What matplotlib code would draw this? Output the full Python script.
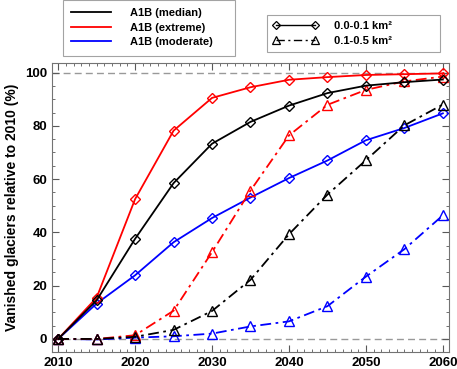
import matplotlib.pyplot as plt
from matplotlib.lines import Line2D
from matplotlib.ticker import MultipleLocator

plt.rcParams['font.family'] = ['Liberation Sans', 'DejaVu Sans']
plt.rcParams['font.weight'] = 'bold'

years = [2010, 2015, 2020, 2025, 2030, 2035, 2040, 2045, 2050, 2055, 2060]

# 0.0-0.1 km2 (diamonds, solid)
median_small = [0, 14.5, 37.6, 58.5, 73.3, 81.5, 87.6, 92.3, 95.1, 96.4, 97.4]
extreme_small = [0, 15.5, 52.5, 78.2, 90.5, 94.5, 97.3, 98.3, 99.1, 99.4, 99.7]
moderate_small = [0, 13.3, 23.9, 36.3, 45.4, 53.1, 60.4, 67.0, 74.6, 79.2, 84.7]

# 0.1-0.5 km2 (triangles, dash-dot)
median_large = [0, 0, 0.8, 3.4, 10.5, 22.2, 39.3, 54.2, 67.1, 80.2, 88.0]
extreme_large = [0, 0, 1.4, 10.6, 32.6, 55.7, 76.4, 87.9, 93.5, 96.7, 98.5]
moderate_large = [0, -0.2, 0.5, 1.0, 2.0, 4.7, 6.6, 12.3, 23.4, 33.7, 46.4]

scenarios = ['A1B (median)', 'A1B (extreme)', 'A1B (moderate)']
size_classes = ['0.0-0.1 km²', '0.1-0.5 km²']
colors = ['black', 'red', 'blue']
small_sets = [median_small, extreme_small, moderate_small]
large_sets = [median_large, extreme_large, moderate_large]

fig = plt.figure(figsize=(4.57, 3.69), dpi=100)
ax = fig.add_axes([52/457, 17/369, 397/457, 289/369])

ax.axhline(0, color='0.6', ls=(0, (5, 3)), lw=1.0, zorder=1)
ax.axhline(100, color='0.6', ls=(0, (5, 3)), lw=1.0, zorder=1)

dashdot = (0, (6, 2.5, 1.5, 2.5))
for c, s, l in zip(colors[::-1], small_sets[::-1], large_sets[::-1]):
    ax.plot(years, l, color=c, ls=dashdot, lw=1.3, marker='^', ms=7,
            mfc='none', mec=c, mew=1.0)
    ax.plot(years, s, color=c, ls='-', lw=1.3, marker='D', ms=5,
            mfc='none', mec=c, mew=1.0)

ax.set_xlim(2009.2, 2060.8)
ax.set_ylim(-4.9, 103.6)
ax.set_xticks([2010, 2020, 2030, 2040, 2050, 2060])
ax.set_yticks([0, 20, 40, 60, 80, 100])
ax.xaxis.set_minor_locator(MultipleLocator(1))
ax.yaxis.set_minor_locator(MultipleLocator(5))
ax.tick_params(which='both', direction='in', top=True, right=True,
               labelsize=9.5, colors='0.35', labelcolor='black')
ax.tick_params(which='major', length=5)
ax.tick_params(which='minor', length=2.5)
for sp in ax.spines.values():
    sp.set_color('0.45')
for t in ax.get_xticklabels() + ax.get_yticklabels():
    t.set_fontweight('bold')
ax.set_ylabel('Vanished glaciers relative to 2010 (%)', fontsize=10,
              fontweight='bold', labelpad=4)

h1 = [Line2D([], [], color=c, lw=1.3) for c in colors]
leg1 = fig.legend(h1, scenarios, loc='upper left', mode='expand',
                  bbox_to_anchor=(63/457, 314/369, 172/457, 55/369),
                  borderaxespad=0, frameon=True, fancybox=False,
                  edgecolor='0.55', handlelength=3.6, handletextpad=1.7,
                  borderpad=0.75, labelspacing=0.4,
                  prop={'weight': 'bold', 'size': 8})
leg1.get_frame().set_linewidth(0.8)

h2 = [Line2D([], [], color='black', ls='-', lw=1.0, marker='D', ms=4,
             mfc='none', mew=0.9),
      Line2D([], [], color='black', ls=dashdot, lw=1.0, marker='^', ms=5.5,
             mfc='none', mew=0.9)]
leg2 = fig.legend(h2, size_classes, loc='upper left', mode='expand',
                  bbox_to_anchor=(267/457, 313/369, 173/457, 41/369),
                  borderaxespad=0, numpoints=2, frameon=True, fancybox=False,
                  edgecolor='0.55', handlelength=4.1, handletextpad=1.4,
                  borderpad=0.55, labelspacing=0.45,
                  prop={'weight': 'bold', 'size': 8})
leg2.get_frame().set_linewidth(0.8)

fig.savefig('out.png', dpi=100)
